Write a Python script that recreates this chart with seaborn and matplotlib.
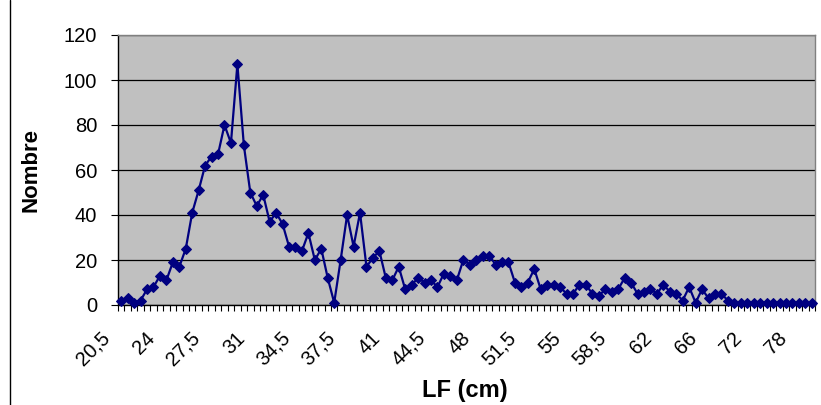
import matplotlib
matplotlib.use("Agg")
import matplotlib.pyplot as plt
import matplotlib.transforms as mtransforms
import numpy as np
import pandas as pd
import seaborn as sns

# ---- data ----
categories = [
    "20,5", "21", "21,5", "22", "22,5", "23", "23,5", "24", "24,5", "25",
    "25,5", "26", "26,5", "27", "27,5", "28", "28,5", "29", "29,5", "30",
    "30,5", "31", "31,5", "32", "32,5", "33", "33,5", "34", "34,5", "35",
    "35,5", "36", "36,5", "37", "37,2", "37,5", "38", "38,5", "39", "39,5",
    "40", "40,5", "41", "41,5", "42", "42,5", "43", "43,5", "44", "44,5",
    "45", "45,5", "46", "46,5", "47", "47,5", "48", "48,5", "49", "49,5",
    "50", "50,5", "51", "51,5", "52", "52,5", "53", "53,5", "54", "54,5",
    "55", "55,5", "56", "56,5", "57", "57,5", "58", "58,5", "59", "59,5",
    "60", "60,5", "61", "61,5", "62", "62,5", "63", "63,5", "64", "64,5",
    "65", "66", "67", "68", "69", "70", "70,5", "71", "72", "73",
    "74", "75", "76", "76,5", "77", "78", "79", "80",
]
counts = [
    2, 3, 1, 2, 7, 8, 13, 11, 19, 17,
    25, 41, 51, 62, 66, 67, 80, 72, 107, 71,
    50, 44, 49, 37, 41, 36, 26, 26, 24, 32,
    20, 25, 12, 1, 20, 40, 26, 41, 17, 21,
    24, 12, 11, 17, 7, 9, 12, 10, 11, 8,
    14, 13, 11, 20, 18, 20, 22, 22, 18, 19,
    19, 10, 8, 10, 16, 7, 9, 9, 8, 5,
    5, 9, 9, 5, 4, 7, 6, 7, 12, 10,
    5, 6, 7, 5, 9, 6, 5, 2, 8, 1,
    7, 3, 5, 5, 2, 1, 1, 1, 1, 1,
    1, 1, 1, 1, 1, 1, 1, 1,
]
label_every = 7
y_ticks = [0, 20, 40, 60, 80, 100, 120]
x_title = "LF (cm)"
y_title = "Nombre"

# ---- style ----
sns.set_theme(style="white")
plt.rcParams["font.family"] = ["Liberation Sans", "DejaVu Sans"]
for k in ("text.color", "axes.labelcolor", "xtick.color", "ytick.color"):
    plt.rcParams[k] = "black"

W, H = 821, 405
fig = plt.figure(figsize=(W / 100, H / 100), dpi=100)
fig.patch.set_facecolor("white")
ax = fig.add_axes([118 / W, 100 / H, 697 / W, 270 / H])
ax.set_facecolor("#C0C0C0")

df = pd.DataFrame({"pos": np.arange(len(categories)), "LF": categories, "Nombre": counts})
sns.lineplot(data=df, x="pos", y="Nombre", ax=ax, color="#000080", linewidth=1.6,
             marker="D", markersize=5.5, markeredgecolor="#000080",
             markerfacecolor="#000080", clip_on=False, zorder=5)

n = len(categories)
ax.set_xlim(-0.5, n - 0.5)
ax.set_ylim(0, 120)

# y axis
ax.set_yticks(y_ticks)
ax.set_yticklabels([str(v) for v in y_ticks])
ax.yaxis.grid(True, color="black", linewidth=0.9)
ax.xaxis.grid(False)
ax.set_axisbelow(True)
ax.tick_params(axis="y", which="major", left=True, direction="out", length=5,
               width=0.8, pad=10, labelsize=14.5, color="black")

# x axis: labels every 7th category, minor ticks at category boundaries
pos_lab = list(range(0, n, label_every))
ax.set_xticks(pos_lab)
ax.set_xticks(np.arange(-0.5, n, 1), minor=True)
ax.tick_params(axis="x", which="major", bottom=True, length=0, pad=0, labelsize=14.5)
ax.tick_params(axis="x", which="minor", bottom=True, direction="out", length=4,
               width=0.8, color="black")
ax.set_xticklabels([categories[i] for i in pos_lab])
offset = mtransforms.ScaledTranslation(-11 / 100, -34 / 100, fig.dpi_scale_trans)
for lab in ax.get_xticklabels():
    lab.set_rotation(45)
    lab.set_rotation_mode("anchor")
    lab.set_horizontalalignment("right")
    lab.set_verticalalignment("baseline")
    lab.set_transform(lab.get_transform() + offset)

# spines
for side in ("top", "right"):
    ax.spines[side].set_color("#808080")
    ax.spines[side].set_linewidth(1.0)
for side in ("left", "bottom"):
    ax.spines[side].set_color("black")
    ax.spines[side].set_linewidth(1.0)

# axis titles
ax.set_xlabel(x_title, fontsize=17, fontweight="bold", va="center")
ax.xaxis.set_label_coords(0.497, -(391 - 305) / 270)
ax.set_ylabel(y_title, fontsize=16, fontweight="bold", va="center")
ax.yaxis.set_label_coords((31 - 118) / 697, 0.5)

# chart-area frame (left edge)
fig.add_artist(plt.Line2D([10 / W, 10 / W], [0, 1], transform=fig.transFigure,
                          color="black", linewidth=1.0))

fig.savefig("out.png", dpi=100, facecolor="white")
